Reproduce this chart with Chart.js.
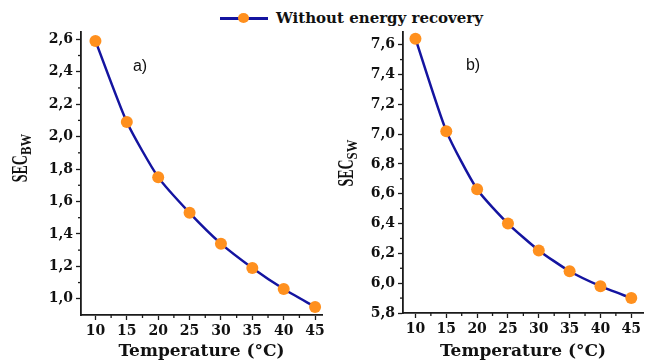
<!DOCTYPE html>
<html>
<head>
<meta charset="utf-8">
<script src="https://cdn.jsdelivr.net/npm/chart.js@4.4.1/dist/chart.umd.min.js"></script>
<style>
  html, body { margin: 0; padding: 0; background: #fff; }
  body { width: 649px; height: 363px; position: relative; overflow: hidden; }
  .panel { position: absolute; top: 0; }
  #legend {
    position: absolute; top: 9px; left: 220px; height: 18px;
    display: flex; align-items: center;
    font: bold 15px "DejaVu Serif", serif; color: #111; white-space: nowrap;
  }
  #legend .sym { position: relative; width: 48px; height: 18px; margin-right: 8px; }
  #legend .sym .ln { position: absolute; left: 0; right: 0; top: 8px; height: 2.5px; background: #1414a0; }
  #legend .sym .pt { position: absolute; left: 18px; top: 4px; width: 11px; height: 10px; border-radius: 50%; background: #ff901e; }
</style>
</head>
<body>
<div id="legend"><span class="sym"><span class="ln"></span><span class="pt"></span></span><span>Without energy recovery</span></div>
<div class="panel" style="left:0px"><canvas id="chartA" width="330" height="363"></canvas></div>
<div class="panel" style="left:330px"><canvas id="chartB" width="319" height="363"></canvas></div>
<script>
// data
const temperatures = [10, 15, 20, 25, 30, 35, 40, 45];
const secBW = [2.59, 2.09, 1.75, 1.53, 1.34, 1.19, 1.06, 0.95];
const secSW = [7.64, 7.02, 6.63, 6.40, 6.22, 6.08, 5.98, 5.90];
const xTicks = [10, 15, 20, 25, 30, 35, 40, 45];
const yTicksBW = [1.0, 1.2, 1.4, 1.6, 1.8, 2.0, 2.2, 2.4, 2.6];
const yTicksSW = [5.8, 6.0, 6.2, 6.4, 6.6, 6.8, 7.0, 7.2, 7.4, 7.6];

const lineColor = '#1414a0';
const pointColor = '#ff901e';
const axisColor = '#1a1a1a';

// minor ticks + y title with subscript + panel letter
const extrasPlugin = {
  id: 'extras',
  afterDraw(chart, args, opts) {
    const ctx = chart.ctx;
    const x = chart.scales.x, y = chart.scales.y;
    ctx.save();
    ctx.strokeStyle = axisColor;
    ctx.lineWidth = 1.3;
    // minor ticks
    for (let i = 0; i < xTicks.length - 1; i++) {
      const px = x.getPixelForValue((xTicks[i] + xTicks[i + 1]) / 2);
      ctx.beginPath(); ctx.moveTo(px, x.top); ctx.lineTo(px, x.top + 3); ctx.stroke();
    }
    const yt = opts.yTicks;
    for (let i = 0; i < yt.length - 1; i++) {
      const py = y.getPixelForValue((yt[i] + yt[i + 1]) / 2);
      ctx.beginPath(); ctx.moveTo(y.right, py); ctx.lineTo(y.right - 3, py); ctx.stroke();
    }
    // y title, rotated, condensed like the original
    ctx.fillStyle = '#111';
    ctx.translate(opts.titleX, opts.titleY);
    ctx.rotate(-Math.PI / 2);
    ctx.font = 'bold 24px "Liberation Serif", serif';
    const mainW = ctx.measureText(opts.titleMain).width * 0.58;
    ctx.font = 'bold 15px "Liberation Serif", serif';
    const subW = ctx.measureText(opts.titleSub).width * 0.85;
    const start = -(mainW + subW) / 2;
    ctx.save();
    ctx.translate(start, 0);
    ctx.scale(0.58, 1);
    ctx.font = 'bold 24px "Liberation Serif", serif';
    ctx.textBaseline = 'alphabetic';
    ctx.fillText(opts.titleMain, 0, 0);
    ctx.restore();
    ctx.save();
    ctx.translate(start + mainW, 4);
    ctx.scale(0.85, 1);
    ctx.font = 'bold 15px "Liberation Serif", serif';
    ctx.fillText(opts.titleSub, 0, 0);
    ctx.restore();
    ctx.restore();
    // panel letter
    ctx.save();
    ctx.fillStyle = '#111';
    ctx.font = '16px "Liberation Sans", Arial, sans-serif';
    ctx.textAlign = 'center';
    ctx.textBaseline = 'middle';
    ctx.fillText(opts.letter, opts.letterX, opts.letterY);
    ctx.restore();
  }
};

function makeChart(id, values, yTicks, cfg) {
  const points = temperatures.map((t, i) => ({ x: t, y: values[i] }));
  return new Chart(document.getElementById(id), {
    type: 'line',
    data: {
      datasets: [{
        data: points,
        borderColor: lineColor,
        borderWidth: 2.5,
        tension: 0.2,
        pointRadius: 6,
        pointHoverRadius: 6,
        pointBackgroundColor: pointColor,
        pointBorderColor: pointColor,
        pointBorderWidth: 0
      }]
    },
    options: {
      responsive: false,
      animation: false,
      devicePixelRatio: 1,
      layout: { padding: { left: 0, right: cfg.padRight, top: 32, bottom: 0 } },
      plugins: {
        legend: { display: false },
        tooltip: { enabled: false },
        extras: cfg.extras
      },
      scales: {
        x: {
          type: 'linear',
          min: cfg.xMin,
          max: cfg.xMax,
          afterBuildTicks: s => { s.ticks = xTicks.map(v => ({ value: v })); },
          afterFit: s => { s.height = cfg.xHeight; },
          border: { color: axisColor, width: 1.8 },
          grid: { drawOnChartArea: false, drawTicks: true, tickLength: 5, color: axisColor, tickWidth: 1.3 },
          ticks: {
            padding: 3,
            color: '#111',
            font: { family: '"DejaVu Serif", serif', weight: 'bold', size: 14 },
            maxRotation: 0
          },
          title: {
            display: true,
            text: 'Temperature (°C)',
            color: '#111',
            font: { family: '"DejaVu Serif", serif', weight: 'bold', size: 17 },
            padding: { top: 0, bottom: 1 }
          }
        },
        y: {
          min: cfg.yMin,
          max: cfg.yMax,
          afterBuildTicks: s => { s.ticks = yTicks.map(v => ({ value: v })); },
          afterFit: s => { s.width = cfg.yWidth; },
          border: { color: axisColor, width: 1.8 },
          grid: { drawOnChartArea: false, drawTicks: true, tickLength: 5, color: axisColor, tickWidth: 1.3 },
          ticks: {
            padding: 3,
            color: '#111',
            font: { family: '"DejaVu Serif", serif', weight: 'bold', size: 14 },
            callback: v => v.toFixed(1).replace('.', ',')
          }
        }
      }
    },
    plugins: [extrasPlugin]
  });
}

makeChart('chartA', secBW, yTicksBW, {
  xMin: 7.7, xMax: 46.1, yMin: 0.9, yMax: 2.645,
  padRight: 8, xHeight: 48, yWidth: 81,
  extras: { yTicks: yTicksBW, titleMain: 'SEC', titleSub: 'BW', titleX: 27, titleY: 158, letter: 'a)', letterX: 140, letterY: 67 }
});

makeChart('chartB', secSW, yTicksSW, {
  xMin: 7.98, xMax: 46.9, yMin: 5.8, yMax: 7.685,
  padRight: 1, xHeight: 50, yWidth: 73,
  extras: { yTicks: yTicksSW, titleMain: 'SEC', titleSub: 'SW', titleX: 23, titleY: 163, letter: 'b)', letterX: 143, letterY: 66 }
});
</script>
</body>
</html>
